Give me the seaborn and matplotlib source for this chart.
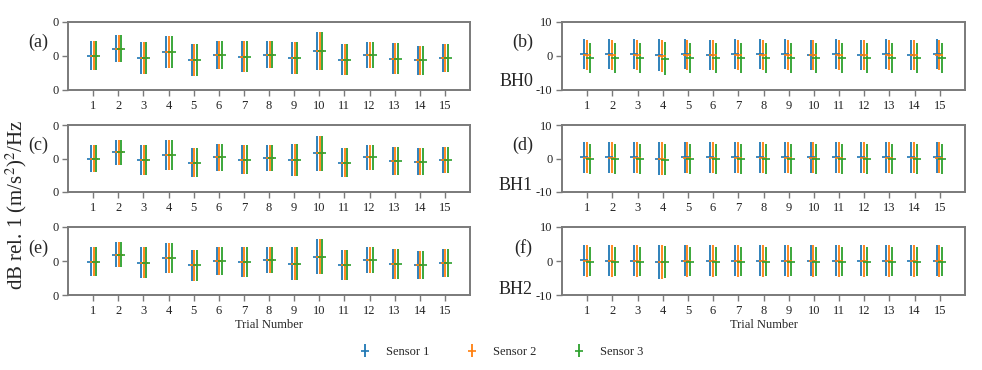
import numpy as np
import matplotlib
matplotlib.use("Agg")
import matplotlib.pyplot as plt
import seaborn as sns

# ---------------- data ----------------
trials = list(range(1, 16))
sensors = ["Sensor 1", "Sensor 2", "Sensor 3"]

# left column (a), (c), (e): same mean for all sensors
mean_a = [0.1, 2.2, -0.6, 1.3, -1.2, 0.3, -0.2, 0.4, -0.7, 1.5, -1.1, 0.3, -0.8, -1.3, -0.6]
err_a = [4.25, 3.95, 4.8, 4.7, 4.65, 4.15, 4.5, 4.0, 4.7, 5.65, 4.5, 3.9, 4.5, 4.25, 4.15]
mean_c = [0.0, 1.8, -0.4, 1.0, -1.2, 0.3, -0.3, 0.2, -0.5, 1.5, -1.2, 0.3, -0.7, -0.95, -0.45]
err_c = [4.05, 3.7, 4.45, 4.45, 4.2, 3.95, 4.35, 3.85, 4.7, 5.25, 4.4, 3.7, 4.2, 3.95, 3.95]
mean_e = [-0.2, 1.9, -0.55, 1.0, -1.3, 0.05, -0.2, 0.4, -0.8, 1.3, -1.1, 0.25, -0.8, -1.2, -0.6]
err_e = [4.2, 3.8, 4.55, 4.4, 4.5, 4.15, 4.4, 3.8, 4.8, 5.2, 4.4, 3.85, 4.4, 4.2, 4.1]

# right column (b) BH0, (d) BH1, (f) BH2: per sensor
bh0_mean_s1 = [0.5, 0.5, 0.5, 0.3, 0.5, 0.4, 0.5, 0.5, 0.5, 0.4, 0.5, 0.4, 0.5, 0.4, 0.5]
bh0_err_s1 = [4.4, 4.4, 4.4, 4.6, 4.4, 4.4, 4.4, 4.4, 4.4, 4.4, 4.4, 4.4, 4.4, 4.4, 4.4]
bh0_mean_s2 = [0.2, 0.2, 0.2, 0.0, 0.2, 0.2, 0.2, 0.2, 0.2, 0.2, 0.2, 0.2, 0.2, 0.2, 0.2]
bh0_err_s2 = [4.4, 4.4, 4.4, 4.7, 4.4, 4.4, 4.4, 4.4, 4.4, 4.4, 4.4, 4.4, 4.4, 4.4, 4.4]
bh0_mean_s3 = [-0.6, -0.6, -0.6, -0.8, -0.6, -0.6, -0.6, -0.6, -0.6, -0.6, -0.6, -0.6, -0.6, -0.6, -0.5]
bh0_err_s3 = [4.4, 4.4, 4.4, 4.9, 4.4, 4.4, 4.4, 4.4, 4.4, 4.4, 4.4, 4.4, 4.4, 4.4, 4.4]

bh1_mean_s1 = [0.4, 0.4, 0.4, 0.0, 0.4, 0.4, 0.4, 0.4, 0.4, 0.4, 0.4, 0.4, 0.4, 0.4, 0.4]
bh1_err_s1 = [4.6, 4.6, 4.6, 5.0, 4.6, 4.6, 4.6, 4.6, 4.6, 4.6, 4.6, 4.6, 4.6, 4.6, 4.6]
bh1_mean_s2 = [0.2, 0.2, 0.2, -0.1, 0.2, 0.2, 0.2, 0.2, 0.2, 0.2, 0.2, 0.2, 0.2, 0.2, 0.2]
bh1_err_s2 = [4.6, 4.6, 4.6, 4.9, 4.6, 4.6, 4.6, 4.6, 4.6, 4.6, 4.6, 4.6, 4.6, 4.6, 4.6]
bh1_mean_s3 = [-0.2, -0.2, -0.2, -0.3, -0.2, -0.2, -0.2, -0.2, -0.2, -0.2, -0.2, -0.2, -0.2, -0.2, -0.2]
bh1_err_s3 = [4.4, 4.4, 4.4, 4.7, 4.4, 4.4, 4.4, 4.4, 4.4, 4.4, 4.4, 4.4, 4.4, 4.4, 4.4]

bh2_mean_s1 = [0.2, 0.1, 0.1, -0.3, 0.1, 0.1, 0.1, 0.1, 0.1, 0.1, 0.1, 0.1, 0.1, 0.1, 0.1]
bh2_err_s1 = [4.6, 4.6, 4.6, 5.0, 4.6, 4.6, 4.6, 4.6, 4.6, 4.6, 4.6, 4.6, 4.6, 4.6, 4.6]
bh2_mean_s2 = [0.0, 0.0, 0.0, -0.3, 0.0, 0.0, 0.0, 0.0, 0.0, 0.0, 0.0, 0.0, 0.0, 0.0, 0.0]
bh2_err_s2 = [4.8, 4.7, 4.7, 5.0, 4.7, 4.7, 4.7, 4.7, 4.7, 4.7, 4.7, 4.7, 4.7, 4.7, 4.7]
bh2_mean_s3 = [-0.2, -0.2, -0.2, -0.4, -0.2, -0.2, -0.2, -0.2, -0.2, -0.2, -0.2, -0.2, -0.2, -0.2, -0.2]
bh2_err_s3 = [4.3, 4.3, 4.3, 4.7, 4.3, 4.3, 4.3, 4.3, 4.3, 4.3, 4.3, 4.3, 4.3, 4.3, 4.3]

panel_labels = ["(a)", "(b)", "(c)", "(d)", "(e)", "(f)"]
bh_labels = ["BH0", "BH1", "BH2"]
yticks = [-10, 0, 10]
left_yticklabels = ["0", "0", "0"]
right_yticklabels = ["-10", "0", "10"]

# ---------------- style ----------------
sns.set_theme(style="ticks")
plt.rcParams["font.family"] = ["Liberation Serif", "DejaVu Serif"]
plt.rcParams["mathtext.fontset"] = "stix"
colors = sns.color_palette("tab10", 3)
spine_c = "#7a7a7a"

fig = plt.figure(figsize=(9.82, 3.70), dpi=100)
W, H = 982.0, 370.0

def add_ax(x0, x1, y0, y1):
    return fig.add_axes([x0 / W, 1 - y1 / H, (x1 - x0) / W, (y1 - y0) / H])

rows_px = [(22, 90), (125, 192), (227, 295)]
left_px = (68, 470)
right_px = (562, 965)

left_data = [(mean_a, err_a), (mean_c, err_c), (mean_e, err_e)]
right_data = [
    [(bh0_mean_s1, bh0_err_s1), (bh0_mean_s2, bh0_err_s2), (bh0_mean_s3, bh0_err_s3)],
    [(bh1_mean_s1, bh1_err_s1), (bh1_mean_s2, bh1_err_s2), (bh1_mean_s3, bh1_err_s3)],
    [(bh2_mean_s1, bh2_err_s1), (bh2_mean_s2, bh2_err_s2), (bh2_mean_s3, bh2_err_s3)],
]

left_dodge = [-0.08, 0.02, 0.12]
right_dodge = [-0.13, -0.02, 0.1]

def style_ax(ax, ticklabels):
    ax.set_xlim(0, 16)
    ax.set_ylim(-10, 10)
    ax.set_xticks(trials)
    ax.set_xticklabels([str(t) for t in trials], fontsize=9)
    ax.set_yticks(yticks)
    ax.set_yticklabels(ticklabels, fontsize=9)
    for s in ax.spines.values():
        s.set_color(spine_c)
        s.set_linewidth(1.4)
    ax.tick_params(axis="both", colors="#222222", length=4, width=1.0,
                   direction="out", pad=3)
    ax.tick_params(axis="both", color=spine_c)
    ax.grid(False)

handles = None
for r, (y0, y1) in enumerate(rows_px):
    # left
    ax = add_ax(left_px[0], left_px[1], y0, y1)
    m, e = left_data[r]
    hs = []
    for k in range(3):
        x = np.array(trials) + left_dodge[k]
        h = ax.errorbar(x, m, yerr=e, fmt="_", color=colors[k], ecolor=colors[k],
                        elinewidth=1.3, markersize=6, markeredgewidth=1.2,
                        capsize=0, label=sensors[k])
        hs.append(h)
    handles = hs
    style_ax(ax, left_yticklabels)
    if r == 2:
        ax.set_xlabel("Trial Number", fontsize=9, labelpad=2)
    fig.text(38 / W, 1 - (42 + r * 103) / H, panel_labels[2 * r], fontsize=13,
             ha="center", va="center")

    # right
    ax2 = add_ax(right_px[0], right_px[1], y0, y1)
    for k in range(3):
        m2, e2 = right_data[r][k]
        x = np.array(trials) + right_dodge[k]
        ax2.errorbar(x, m2, yerr=e2, fmt="_", color=colors[k], ecolor=colors[k],
                     elinewidth=1.3, markersize=6, markeredgewidth=1.2, capsize=0)
    style_ax(ax2, right_yticklabels)
    if r == 2:
        ax2.set_xlabel("Trial Number", fontsize=9, labelpad=2)
    fig.text(523 / W, 1 - (42 + r * 103) / H, panel_labels[2 * r + 1], fontsize=13,
             ha="center", va="center")
    fig.text(533 / W, 1 - (81 + r * 104) / H, bh_labels[r], fontsize=13,
             ha="right", va="center")

fig.text(16 / W, 1 - 205 / H, r"dB rel. 1 (m/s$^2$)$^2$/Hz", fontsize=15,
         rotation=90, ha="center", va="center")

fig.legend(handles, sensors, loc="center", bbox_to_anchor=(501 / W, 1 - 352 / H),
           ncol=3, frameon=False, fontsize=9, handlelength=1.0,
           columnspacing=2.9, handletextpad=1.2)

fig.savefig("out.png", dpi=100)
